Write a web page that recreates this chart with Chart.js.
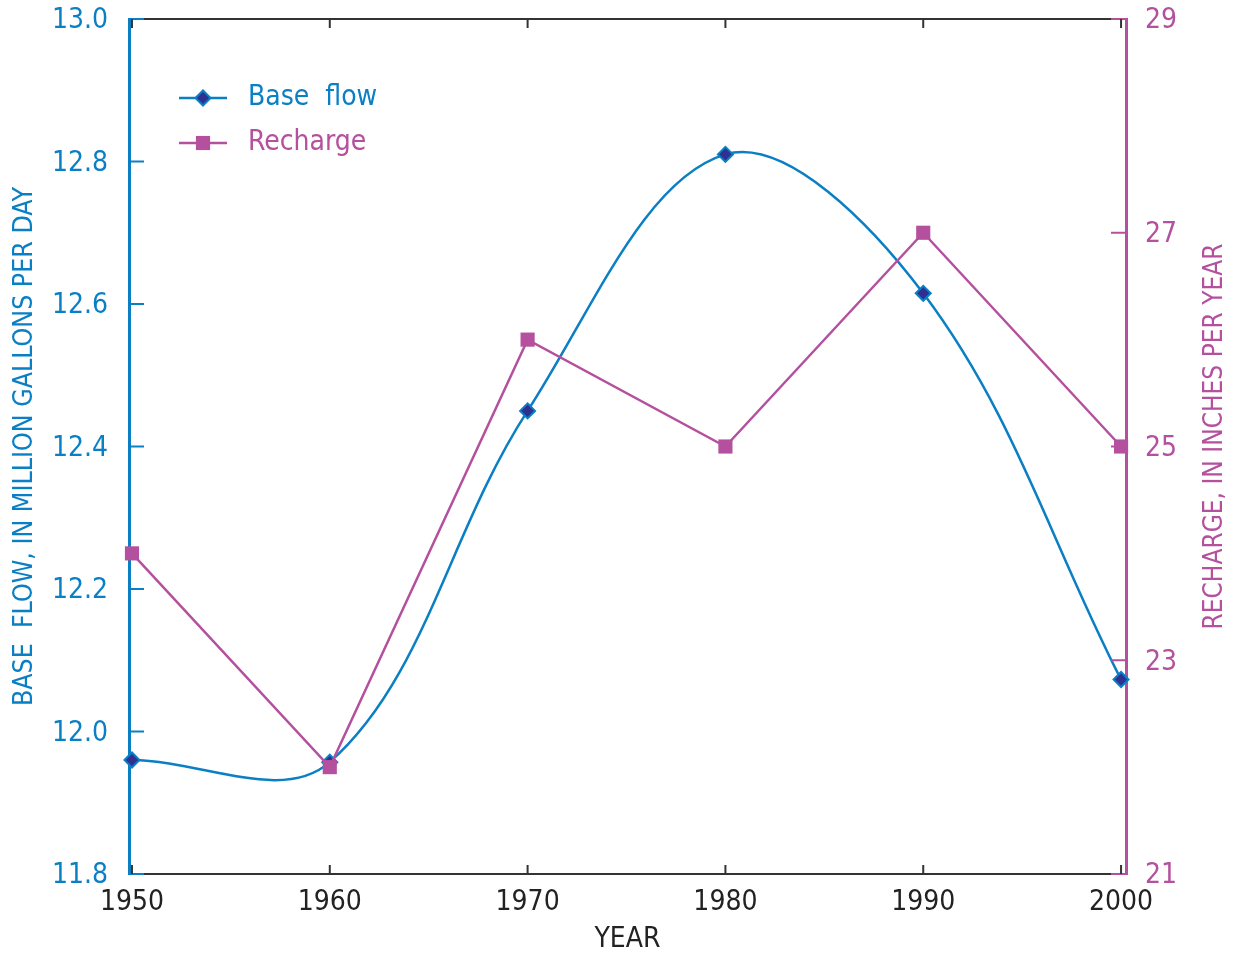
<!DOCTYPE html>
<html>
<head>
<meta charset="utf-8">
<script src="https://cdn.jsdelivr.net/npm/chart.js@4.4.1/dist/chart.umd.min.js"></script>
<style>
  html, body { margin: 0; padding: 0; background: #fff; }
  #wrap { width: 1238px; height: 957px; }
</style>
</head>
<body>
<div id="wrap"><canvas id="flowChart" width="1238" height="957"></canvas></div>
<script>
// data
const years = [1950, 1960, 1970, 1980, 1990, 2000];
const baseFlow = [11.96, 11.957, 12.45, 12.81, 12.615, 12.073];
const recharge = [24, 22, 26, 25, 27, 25];
const flowTicks = [11.8, 12.0, 12.2, 12.4, 12.6, 12.8, 13.0];
const rechargeTicks = [21, 23, 25, 27, 29];

const BLUE = '#0a7fc4';
const NAVY = '#2e3192';
const PINK = '#b4509d';
const DARK = '#333333';
const FONT = '"Liberation Sans Narrow", "DejaVu Sans Condensed", "Liberation Sans", sans-serif';

// fixed box sizes so the plot area sits where the figure has it
function fixBox(w, h) {
    return s => {
        if (w !== null) s.width = w;
        if (h !== null) s.height = h;
        s.paddingTop = 0; s.paddingBottom = 0;
        s.paddingLeft = 0; s.paddingRight = 0;
    };
}

// inward tick marks, titles on the right and the legend box
const decorPlugin = {
    id: 'decor',
    afterDraw(chart) {
        const ctx = chart.ctx;
        const area = chart.chartArea;
        const s = chart.scales;
        ctx.save();
        ctx.lineWidth = 2;

        ctx.strokeStyle = BLUE;
        flowTicks.forEach(v => {
            const y = s.y.getPixelForValue(v);
            ctx.beginPath(); ctx.moveTo(area.left, y); ctx.lineTo(area.left + 15, y); ctx.stroke();
        });
        ctx.strokeStyle = PINK;
        rechargeTicks.forEach(v => {
            const y = s.y2.getPixelForValue(v);
            ctx.beginPath(); ctx.moveTo(area.right, y); ctx.lineTo(area.right - 15, y); ctx.stroke();
        });
        ctx.strokeStyle = DARK;
        years.forEach(v => {
            const x = s.x.getPixelForValue(v);
            ctx.beginPath(); ctx.moveTo(x, area.bottom); ctx.lineTo(x, area.bottom - 9); ctx.stroke();
            ctx.beginPath(); ctx.moveTo(x, area.top); ctx.lineTo(x, area.top + 9); ctx.stroke();
        });

        // right axis title, reading bottom to top
        ctx.fillStyle = PINK;
        ctx.font = '26px ' + FONT;
        ctx.textAlign = 'center';
        ctx.textBaseline = 'middle';
        ctx.translate(1215, (area.top + area.bottom) / 2 - 10);
        ctx.rotate(-Math.PI / 2);
        ctx.fillText('RECHARGE, IN INCHES PER YEAR', 0, 0);
        ctx.restore();

        // legend
        ctx.save();
        const items = chart.data.datasets.slice().sort((a, b) => b.order - a.order);
        items.forEach((ds, i) => {
            const y = 98 + i * 45;
            ctx.strokeStyle = ds.borderColor;
            ctx.lineWidth = 2.5;
            ctx.beginPath(); ctx.moveTo(179, y); ctx.lineTo(227, y); ctx.stroke();
            ctx.fillStyle = ds.pointBackgroundColor;
            ctx.strokeStyle = ds.pointBorderColor;
            ctx.lineWidth = ds.pointBorderWidth;
            Chart.helpers.drawPoint(ctx, {
                pointStyle: ds.pointStyle, radius: ds.pointRadius,
                borderWidth: ds.pointBorderWidth, rotation: 0
            }, 203, y);
            ctx.fillStyle = ds.borderColor;
            ctx.font = '28px ' + FONT;
            ctx.textAlign = 'left';
            ctx.textBaseline = 'middle';
            ctx.fillText(ds.label, 248, y);
        });
        ctx.restore();
    }
};

new Chart(document.getElementById('flowChart').getContext('2d'), {
    type: 'line',
    data: {
        datasets: [
            {
                label: 'Base  flow',
                data: years.map((yr, i) => ({ x: yr, y: baseFlow[i] })),
                yAxisID: 'y',
                borderColor: BLUE,
                borderWidth: 2.5,
                tension: 0.36,
                pointStyle: 'rectRot',
                pointRadius: 7.5,
                pointBackgroundColor: NAVY,
                pointBorderColor: BLUE,
                pointBorderWidth: 2,
                clip: false,
                order: 1
            },
            {
                label: 'Recharge',
                data: years.map((yr, i) => ({ x: yr, y: recharge[i] })),
                yAxisID: 'y2',
                borderColor: PINK,
                borderWidth: 2.5,
                tension: 0,
                pointStyle: 'rect',
                pointRadius: 10,
                pointBackgroundColor: PINK,
                pointBorderColor: PINK,
                pointBorderWidth: 0,
                clip: false,
                order: 0
            }
        ]
    },
    options: {
        responsive: false,
        animation: false,
        layout: { padding: 0 },
        plugins: { legend: { display: false }, tooltip: { enabled: false } },
        scales: {
            x: {
                type: 'linear',
                position: 'bottom',
                min: 1949.85,
                max: 2000.25,
                afterBuildTicks: s => { s.ticks = years.map(v => ({ value: v })); },
                afterFit: fixBox(null, 83),
                grid: { drawOnChartArea: false, drawTicks: false },
                border: { color: DARK, width: 2 },
                ticks: { color: '#222', padding: 12, maxRotation: 0, font: { family: FONT, size: 28 }, callback: v => String(v) },
                title: { display: true, text: 'YEAR', color: '#222', font: { family: FONT, size: 28 }, padding: { bottom: 0 } }
            },
            xTop: {
                type: 'linear',
                position: 'top',
                min: 1949.85,
                max: 2000.25,
                afterFit: fixBox(null, 19),
                grid: { drawOnChartArea: false, drawTicks: false },
                border: { color: DARK, width: 2 },
                ticks: { display: false }
            },
            y: {
                position: 'left',
                min: 11.8,
                max: 13.0,
                afterBuildTicks: s => { s.ticks = flowTicks.map(v => ({ value: v })); },
                afterFit: fixBox(129, null),
                grid: { drawOnChartArea: false, drawTicks: false },
                border: { color: BLUE, width: 3 },
                ticks: { color: BLUE, padding: 21, labelOffset: 2, font: { family: FONT, size: 28 }, callback: v => v.toFixed(1) },
                title: { display: true, text: 'BASE  FLOW, IN MILLION GALLONS PER DAY', color: BLUE, font: { family: FONT, size: 26.5 }, padding: { top: 9 } }
            },
            y2: {
                position: 'right',
                min: 21,
                max: 29,
                afterBuildTicks: s => { s.ticks = rechargeTicks.map(v => ({ value: v })); },
                afterFit: fixBox(112, null),
                grid: { drawOnChartArea: false, drawTicks: false },
                border: { color: PINK, width: 3 },
                ticks: { color: PINK, padding: 19, labelOffset: 2, font: { family: FONT, size: 28 }, callback: v => String(v) }
            }
        }
    },
    plugins: [decorPlugin]
});
</script>
</body>
</html>
